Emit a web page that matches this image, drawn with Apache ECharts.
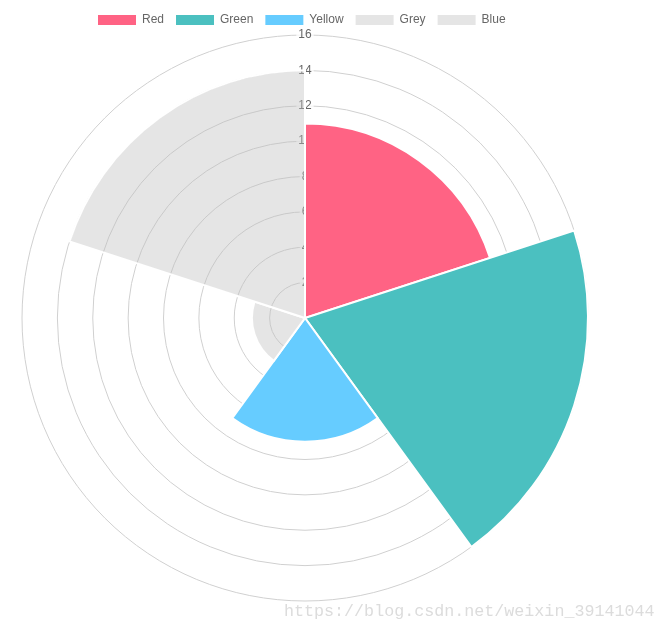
<!DOCTYPE html>
<html>
<head>
<meta charset="utf-8">
<script src="https://cdn.jsdelivr.net/npm/echarts@6/dist/echarts.min.js"></script>
<style>html,body{margin:0;padding:0;background:#fff;}#c{width:665px;height:636px;}</style>
</head>
<body>
<div id="c"></div>
<script>
var categories = ['Red', 'Green', 'Yellow', 'Grey', 'Blue'];
var values = [11, 16, 7, 3, 14];
var colors = ['#FF6384', '#4BC0C0', '#66CCFF', 'rgba(190,190,190,0.4)', 'rgba(190,190,190,0.4)'];
var legendColors = ['#FF6384', '#4BC0C0', '#66CCFF', '#E4E4E4', '#E4E4E4'];
var radiusMax = 16;
var radiusStep = 2;

var chart = echarts.init(document.getElementById('c'));
var series = categories.map(function (name, i) {
  var d = categories.map(function (_, j) { return j === i ? values[i] : '-'; });
  return {
    type: 'bar',
    name: name,
    coordinateSystem: 'polar',
    stack: 'all',
    barCategoryGap: '0%',
    z: 3,
    data: d,
    itemStyle: { color: colors[i], borderColor: '#fff', borderWidth: 2 },
    emphasis: { disabled: true }
  };
});
chart.setOption({
  animation: false,
  color: legendColors,
  legend: {
    data: categories,
    left: 91, top: 8,
    itemWidth: 40, itemHeight: 12, itemGap: 10,
    icon: 'rect',
    textStyle: { color: '#666', fontSize: 12, fontFamily: 'Liberation Sans, Arial' }
  },
  polar: { center: [305, 318], radius: 283 },
  angleAxis: {
    type: 'category', data: categories, startAngle: 90, clockwise: true,
    axisLine: { show: false }, axisTick: { show: false }, axisLabel: { show: false },
    splitLine: { show: false }
  },
  radiusAxis: {
    type: 'value', min: 0, max: radiusMax, interval: radiusStep, z: 1,
    axisLine: { show: false }, axisTick: { show: false },
    splitLine: { show: true, lineStyle: { color: '#d0d0d0', width: 1 } },
    axisLabel: {
      margin: 0, align: 'center', verticalAlign: 'middle',
      color: '#666', fontSize: 12, fontFamily: 'Liberation Sans, Arial',
      backgroundColor: 'rgba(255,255,255,0.75)', padding: [1, 2],
      formatter: function (v) { return v === 0 ? '' : String(v); }
    }
  },
  graphic: [{
    type: 'text', left: 284, top: 603, silent: true,
    style: { text: 'https://blog.csdn.net/weixin_39141044', fill: '#dcdcdc', font: '16.7px "Liberation Mono", monospace' }
  }],
  series: series
});
</script>
</body>
</html>
